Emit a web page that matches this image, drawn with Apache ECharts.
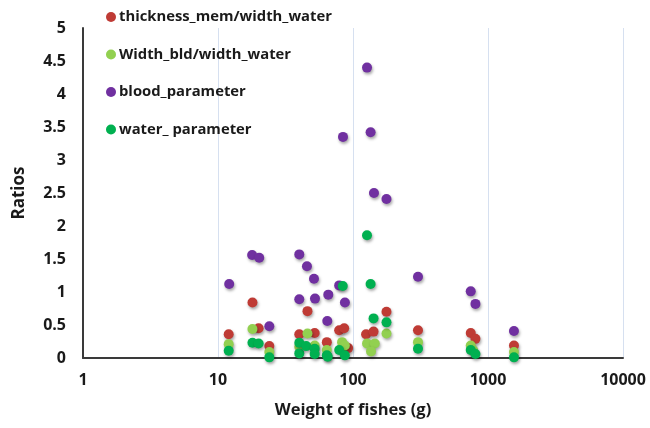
<!DOCTYPE html>
<html>
<head>
<meta charset="utf-8">
<script src="https://cdn.jsdelivr.net/npm/echarts@6/dist/echarts.min.js"></script>
<style>
  html, body { margin: 0; padding: 0; background: #fff; }
  #chart { width: 650px; height: 428px; }
</style>
</head>
<body>
<div id="chart"></div>
<script>
// Ratios measured per fish, as [weight (g), ratio] pairs
const seriesNames = ['thickness_mem/width_water', 'Width_bld/width_water', 'blood_parameter', 'water_ parameter'];

const thicknessMem = [[12,0.36],[18,0.84],[20,0.45],[24,0.18],[40,0.36],[46,0.71],[52,0.38],[64,0.24],[79,0.42],[86,0.45],[92,0.15],[125,0.36],[142,0.40],[177,0.70],[303,0.42],[745,0.38],[807,0.29],[1557,0.19]];

const widthBld = [[12,0.21],[18,0.44],[24,0.09],[40,0.17],[46,0.37],[52,0.19],[64,0.12],[83,0.24],[87,0.19],[127,0.22],[145,0.22],[136,0.10],[177,0.37],[303,0.24],[745,0.19],[775,0.12],[1557,0.09]];

const bloodParam = [[12.1,1.12],[17.9,1.56],[20.2,1.52],[24,0.48],[40,1.57],[40,0.89],[45.6,1.39],[51.4,1.20],[52.3,0.90],[64.5,0.56],[65.6,0.96],[79,1.10],[84.3,3.35],[87.1,0.84],[127,4.40],[135,3.42],[143,2.50],[177,2.41],[303,1.23],[745,1.01],[807,0.82],[1557,0.41]];

const waterParam = [[12,0.11],[18,0.23],[20,0.22],[24,0.01],[40,0.23],[40,0.07],[45,0.18],[52,0.14],[52,0.06],[64,0.04],[65,0.02],[79,0.12],[84,1.09],[87,0.04],[127,1.86],[135,1.12],[142,0.60],[177,0.54],[303,0.14],[745,0.12],[807,0.06],[1557,0.01]];

const colors = ['#BF3B35', '#92D050', '#7030A0', '#00B050'];
const seriesData = [thicknessMem, widthBld, bloodParam, waterParam];

const font = '"Open Sans", "DejaVu Sans", sans-serif';
const textColor = '#1a1a1a';

const chart = echarts.init(document.getElementById('chart'), null, { renderer: 'canvas' });

chart.setOption({
  animation: false,
  backgroundColor: '#ffffff',
  grid: { left: 83, right: 27, top: 28, bottom: 70, containLabel: false },
  legend: {
    orient: 'vertical',
    left: 101,
    top: 2,
    itemWidth: 10,
    itemHeight: 10,
    itemGap: 17.5,
    icon: 'circle',
    textStyle: { fontFamily: font, fontSize: 14.8, fontWeight: 'bold', color: textColor, lineHeight: 20, padding: [0, 0, 0, -2] },
    data: seriesNames
  },
  xAxis: {
    type: 'log',
    logBase: 10,
    min: 1,
    max: 10000,
    name: 'Weight of fishes (g)',
    nameLocation: 'middle',
    nameGap: 44,
    nameTextStyle: { fontFamily: font, fontSize: 16.5, fontWeight: 'bold', color: textColor },
    axisLine: { show: true, lineStyle: { color: '#3a3a3a', width: 2 } },
    axisTick: { show: false },
    axisLabel: {
      fontFamily: font, fontSize: 16, fontWeight: 'bold', color: textColor, margin: 14,
      formatter: v => String(Math.round(v))
    },
    splitLine: { show: true, lineStyle: { color: '#D6E0F0', width: 1 } }
  },
  yAxis: {
    type: 'value',
    min: 0,
    max: 5,
    interval: 0.5,
    name: 'Ratios',
    nameLocation: 'middle',
    nameGap: 55,
    nameRotate: 90,
    nameTextStyle: { fontFamily: font, fontSize: 17, fontWeight: 'bold', color: textColor },
    axisLine: { show: true, lineStyle: { color: '#3a3a3a', width: 2 } },
    axisTick: { show: false },
    axisLabel: { fontFamily: font, fontSize: 16, fontWeight: 'bold', color: textColor, margin: 17 },
    splitLine: { show: false }
  },
  series: seriesNames.map((name, i) => ({
    name: name,
    type: 'scatter',
    symbol: 'circle',
    symbolSize: 10,
    data: seriesData[i],
    itemStyle: {
      color: colors[i],
      opacity: 1,
      shadowBlur: 3,
      shadowColor: 'rgba(0,0,0,0.35)',
      shadowOffsetX: 1,
      shadowOffsetY: 2
    },
    z: 2 + i
  }))
});
</script>
</body>
</html>
